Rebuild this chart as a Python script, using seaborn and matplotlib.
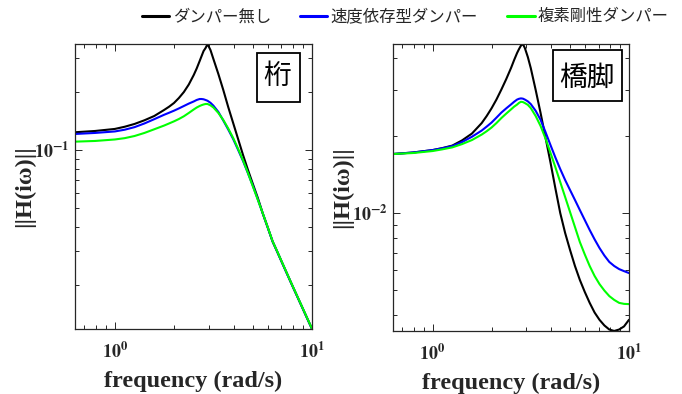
import numpy as np
import pandas as pd
import matplotlib
matplotlib.use("Agg")
import matplotlib.pyplot as plt
import seaborn as sns
from matplotlib.ticker import FixedLocator, LogLocator, FuncFormatter, NullFormatter
from matplotlib.lines import Line2D
from matplotlib.patches import Rectangle

# ---- data ----
freq = [0.628, 0.794, 1.000, 1.122, 1.259, 1.413, 1.585, 1.778, 1.884, 1.995,
        2.113, 2.239, 2.371, 2.512, 2.600, 2.692, 2.754, 2.818, 2.884, 2.951,
        3.055, 3.162, 3.350, 3.548, 3.758, 3.981, 4.217, 4.467, 4.732, 5.012,
        5.309, 5.623, 5.957, 6.310, 6.683, 7.079, 7.499, 7.943, 8.414, 8.913,
        9.441, 10.0]

cases = ["ダンパー無し", "速度依存型ダンパー", "複素剛性ダンパー"]
colors = ["#000000", "#0000FF", "#00FF00"]

# 桁 (girder)
girder_none = [0.1235, 0.1254, 0.1285, 0.1319, 0.1364, 0.1425, 0.1500, 0.1612, 0.1676, 0.1752,
               0.1860, 0.1997, 0.2184, 0.2446, 0.2644, 0.2891, 0.3069, 0.3258, 0.3376, 0.3541,
               0.3297, 0.2960, 0.2476, 0.2046, 0.1670, 0.1380, 0.1140, 0.0942, 0.0788, 0.0666,
               0.0564, 0.0469, 0.0397, 0.0335, 0.02943, 0.02576, 0.02258, 0.01979, 0.01739, 0.01527,
               0.01341, 0.01178]
girder_visc = [0.1210, 0.1225, 0.1247, 0.1273, 0.1313, 0.1372, 0.1444, 0.1522, 0.1559, 0.1598,
               0.1642, 0.1690, 0.1739, 0.1784, 0.1816, 0.1837, 0.1837, 0.1831, 0.1816, 0.1799,
               0.1756, 0.1696, 0.1574, 0.1421, 0.1277, 0.1140, 0.1002, 0.0877, 0.0757, 0.0651,
               0.0554, 0.0469, 0.0397, 0.0335, 0.02943, 0.02576, 0.02258, 0.01979, 0.01739, 0.01527,
               0.01341, 0.01178]
girder_cplx = [0.1104, 0.1113, 0.1133, 0.1151, 0.1181, 0.1225, 0.1280, 0.1338, 0.1372, 0.1407,
               0.1447, 0.1495, 0.1555, 0.1621, 0.1659, 0.1690, 0.1707, 0.1721, 0.1731, 0.1731,
               0.1703, 0.1660, 0.1555, 0.1430, 0.1292, 0.1154, 0.1014, 0.0884, 0.0760, 0.0647,
               0.0552, 0.0470, 0.0398, 0.0336, 0.02952, 0.02585, 0.02265, 0.01985, 0.01744, 0.01532,
               0.01345, 0.01182]

# 橋脚 (pier)
pier_none = [0.01697, 0.01720, 0.01758, 0.01790, 0.01830, 0.01918, 0.02038, 0.02239, 0.02384, 0.02555,
             0.02764, 0.03023, 0.03321, 0.03679, 0.03937, 0.04195, 0.04346, 0.04485, 0.04546, 0.04385,
             0.04046, 0.03665, 0.03010, 0.02449, 0.01967, 0.01579, 0.01251, 0.01000, 0.00836, 0.00718,
             0.00622, 0.00549, 0.00493, 0.00447, 0.00410, 0.00384, 0.00365, 0.00352, 0.003475, 0.00352,
             0.00362, 0.00384]
pier_visc = [0.01697, 0.01720, 0.01758, 0.01787, 0.01822, 0.01889, 0.01981, 0.02094, 0.02169, 0.02249,
             0.02350, 0.02460, 0.02555, 0.02649, 0.02710, 0.02764, 0.02784, 0.02794, 0.02787, 0.02764,
             0.02720, 0.02655, 0.02498, 0.02305, 0.02066, 0.01842, 0.01647, 0.01483, 0.01344, 0.01229,
             0.01124, 0.01027, 0.00939, 0.00859, 0.00790, 0.00731, 0.00683, 0.00645, 0.00622, 0.00605,
             0.00594, 0.00584]
pier_cplx = [0.01697, 0.01712, 0.01743, 0.01770, 0.01801, 0.01855, 0.01923, 0.02020, 0.02081, 0.02151,
             0.02239, 0.02342, 0.02438, 0.02534, 0.02594, 0.02643, 0.02684, 0.02710, 0.02703, 0.02679,
             0.02636, 0.02562, 0.02384, 0.02181, 0.01950, 0.01717, 0.01510, 0.01320, 0.01154, 0.01009,
             0.00882, 0.00771, 0.00690, 0.00622, 0.00569, 0.00529, 0.00499, 0.00475, 0.00459, 0.00447,
             0.00443, 0.00442]

panel_titles = ["桁", "橋脚"]
x_label = "frequency (rad/s)"
y_label = "||H(iω)||"

# ---- style ----
sns.set_theme(style="white")
plt.rcParams["font.family"] = ["Noto Sans CJK JP", "DejaVu Sans"]
plt.rcParams["mathtext.fontset"] = "stix"

fig = plt.figure(figsize=(6.82, 3.94), dpi=100)
ax1 = fig.add_axes([0.110, 0.165, 0.3475, 0.7234])
ax2 = fig.add_axes([0.5762, 0.160, 0.346, 0.7284])

panels = [
    (ax1, [girder_none, girder_visc, girder_cplx], (0.01178, 0.3545), panel_titles[0],
     (0.854, 0.886), (0.768, 0.796, 0.181, 0.172)),
    (ax2, [pier_none, pier_visc, pier_cplx], (0.003475, 0.0455), panel_titles[1],
     (0.820, 0.883), (0.678, 0.801, 0.292, 0.178)),
]

def fmt(v, pos):
    e = int(round(np.log10(v)))
    return r"$\mathbf{10^{%d}}$" % e

for ax, series, ylim, title, tpos, box in panels:
    frames = []
    for name, vals in zip(cases, series):
        frames.append(pd.DataFrame({"freq": freq, "H": vals, "case": name}))
    df = pd.concat(frames, ignore_index=True)
    sns.lineplot(data=df, x="freq", y="H", hue="case", hue_order=cases,
                 palette=colors, estimator=None, linewidth=1.5, legend=False, ax=ax)
    ax.set_xscale("log")
    ax.set_yscale("log")
    ax.set_xlim(0.628, 10)
    ax.set_ylim(*ylim)

    for s in ax.spines.values():
        s.set_visible(True)
        s.set_color("#262626")
        s.set_linewidth(0.9)

    ax.xaxis.set_major_locator(FixedLocator([0.1, 1, 10, 100]))
    ax.yaxis.set_major_locator(FixedLocator([0.0001, 0.001, 0.01, 0.1, 1]))
    ax.xaxis.set_minor_locator(LogLocator(base=10, subs=range(2, 10), numticks=20))
    ax.yaxis.set_minor_locator(LogLocator(base=10, subs=range(2, 10), numticks=20))
    ax.xaxis.set_major_formatter(FuncFormatter(fmt))
    ax.yaxis.set_major_formatter(FuncFormatter(fmt))
    ax.xaxis.set_minor_formatter(NullFormatter())
    ax.yaxis.set_minor_formatter(NullFormatter())

    ax.tick_params(which="both", direction="in", top=True, right=True,
                   bottom=True, left=True, color="#262626", width=0.7)
    ax.tick_params(which="major", length=5, labelsize=13)
    ax.tick_params(which="minor", length=3)
    ax.tick_params(axis="x", which="major", pad=9)
    ax.tick_params(axis="y", which="major", pad=4)

    ax.set_xlabel(x_label, fontfamily="Liberation Serif", fontweight="bold", fontsize=17.5)
    ax.set_ylabel(y_label, fontfamily="Liberation Serif", fontweight="bold", fontsize=17.5)
    ax.xaxis.set_label_coords(0.5, -0.145)
    ax.yaxis.set_label_coords(-0.17, 0.5)

    ax.add_patch(Rectangle((box[0], box[1]), box[2], box[3], transform=ax.transAxes,
                           facecolor="white", edgecolor="black", linewidth=1.3, zorder=5))
    ax.text(tpos[0], tpos[1], title, transform=ax.transAxes, ha="center", va="center",
            fontsize=20, color="black", zorder=6)

handles = [Line2D([0], [0], color=c, lw=2.2) for c in colors]
fig.legend(handles, cases, loc="center", bbox_to_anchor=(0.5946, 0.957), ncol=3,
           frameon=False, fontsize=11.8, handlelength=1.65, handletextpad=0.2,
           columnspacing=1.8)

fig.savefig("out.png", dpi=100, facecolor="white")
